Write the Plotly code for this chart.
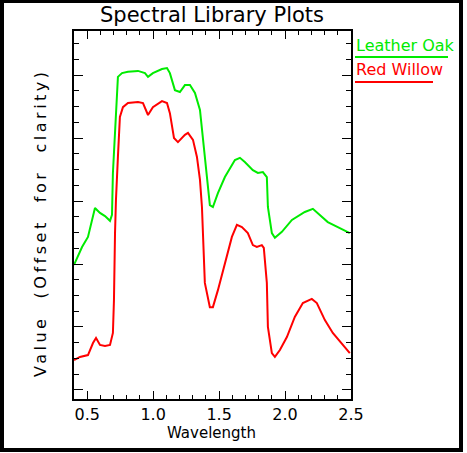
import plotly.graph_objects as go

# wavelength (micrometres) and offset values
willow_wl = [0.400, 0.445, 0.506, 0.544, 0.567, 0.597, 0.635, 0.673, 0.695, 0.703,
             0.711, 0.718, 0.733, 0.748, 0.771, 0.809, 0.885, 0.923, 0.961, 0.998,
             1.067, 1.105, 1.127, 1.158, 1.188, 1.241, 1.264, 1.302, 1.332, 1.355,
             1.370, 1.377, 1.392, 1.430, 1.453, 1.491, 1.544, 1.597, 1.635, 1.673,
             1.718, 1.756, 1.786, 1.824, 1.839, 1.862, 1.870, 1.900, 1.923, 1.961,
             2.014, 2.074, 2.135, 2.203, 2.241, 2.302, 2.362, 2.430, 2.491]
willow_val = [0.095, 0.105, 0.111, 0.149, 0.165, 0.143, 0.140, 0.143, 0.181, 0.286,
              0.498, 0.603, 0.740, 0.867, 0.898, 0.911, 0.914, 0.911, 0.873, 0.898,
              0.917, 0.911, 0.879, 0.800, 0.787, 0.810, 0.816, 0.794, 0.740, 0.667,
              0.581, 0.508, 0.340, 0.263, 0.263, 0.317, 0.403, 0.486, 0.524, 0.517,
              0.498, 0.460, 0.454, 0.460, 0.451, 0.340, 0.200, 0.117, 0.105, 0.127,
              0.168, 0.232, 0.276, 0.289, 0.276, 0.222, 0.181, 0.149, 0.117]

oak_wl = [0.400, 0.461, 0.506, 0.559, 0.597, 0.635, 0.673, 0.688, 0.695, 0.718,
          0.733, 0.764, 0.809, 0.885, 0.938, 0.961, 0.998, 1.067, 1.105, 1.127,
          1.165, 1.203, 1.241, 1.279, 1.317, 1.355, 1.377, 1.408, 1.430, 1.453,
          1.491, 1.544, 1.620, 1.658, 1.695, 1.756, 1.794, 1.832, 1.862, 1.870,
          1.900, 1.923, 1.976, 2.052, 2.150, 2.211, 2.248, 2.324, 2.400, 2.491]
oak_val = [0.397, 0.454, 0.486, 0.578, 0.562, 0.552, 0.537, 0.556, 0.689, 0.898,
           0.994, 1.006, 1.010, 1.013, 1.006, 0.994, 1.006, 1.019, 1.022, 1.006,
           0.952, 0.946, 0.968, 0.968, 0.943, 0.889, 0.794, 0.667, 0.587, 0.581,
           0.625, 0.676, 0.730, 0.737, 0.724, 0.698, 0.689, 0.692, 0.676, 0.581,
           0.498, 0.483, 0.502, 0.540, 0.565, 0.575, 0.562, 0.533, 0.517, 0.498]

green = "rgb(0,235,0)"
red = "rgb(255,0,0)"
font = "DejaVu Sans"

W, H = 467, 453
L, R, T, B = 74, 116, 31, 54
pw, ph = W - L - R, H - T - B


def px(x):
    return (x - L) / pw


def py(y):
    return 1 - (y - T) / ph


fig = go.Figure()
fig.add_trace(go.Scatter(x=oak_wl, y=oak_val, mode="lines", name="Leather Oak",
                         line=dict(color=green, width=2)))
fig.add_trace(go.Scatter(x=willow_wl, y=willow_val, mode="lines", name="Red Willow",
                         line=dict(color=red, width=2)))

axis_common = dict(showline=True, linecolor="black", linewidth=1.5, mirror="ticks",
                   ticks="inside", tickcolor="black", showgrid=False, zeroline=False)

fig.update_xaxes(range=[0.4, 2.5], tick0=0.5, dtick=0.5, ticklen=8, tickformat=".1f",
                 tickfont=dict(family=font, size=16, color="black"),
                 minor=dict(dtick=0.1, ticklen=4, ticks="inside", tickcolor="black"),
                 **axis_common)
fig.update_yaxes(range=[-0.0286, 1.1397], tick0=0, dtick=0.2, ticklen=9, showticklabels=False,
                 minor=dict(dtick=0.05, ticklen=5, ticks="inside", tickcolor="black"),
                 **axis_common)

# axis titles placed as annotations
fig.add_annotation(x=px(211), y=py(433), xref="paper", yref="paper", text="Wavelength",
                   showarrow=False, xanchor="center", yanchor="middle",
                   font=dict(family=font, size=15, color="black"))
fig.add_annotation(x=px(40), y=py(223), xref="paper", yref="paper",
                   text='<span style="letter-spacing:3.5px">Value  (Offset  for  clarity)</span>',
                   textangle=-90, showarrow=False, xanchor="center", yanchor="middle",
                   font=dict(family=font, size=16, color="black"))

# legend drawn as underlined labels to the right of the plot
for name, color, ytext, yline, xend in [("Leather Oak", green, 45, 57, 448),
                                        ("Red Willow", red, 70, 82, 433)]:
    fig.add_annotation(x=px(354), y=py(ytext), xref="paper", yref="paper", text=name,
                       showarrow=False, xanchor="left", yanchor="middle",
                       font=dict(family=font, size=16, color=color))
    fig.add_shape(type="line", xref="paper", yref="paper", x0=px(355), x1=px(xend),
                  y0=py(yline), y1=py(yline), line=dict(color=color, width=2))

# black frame around the whole image
fig.add_shape(type="rect", xref="paper", yref="paper", x0=px(2), x1=px(461),
              y0=py(450), y1=py(1), line=dict(color="black", width=4))

fig.update_layout(
    width=W, height=H,
    margin=dict(l=L, r=R, t=T, b=B),
    paper_bgcolor="white", plot_bgcolor="white",
    showlegend=False,
    title=dict(text="Spectral Library Plots", x=212 / W, xanchor="center",
               y=1 - 15 / H, yanchor="middle",
               font=dict(family=font, size=21, color="black")),
)

fig.write_html("out.html", config={"displayModeBar": False},
               post_script="document.body.style.margin='0';")
